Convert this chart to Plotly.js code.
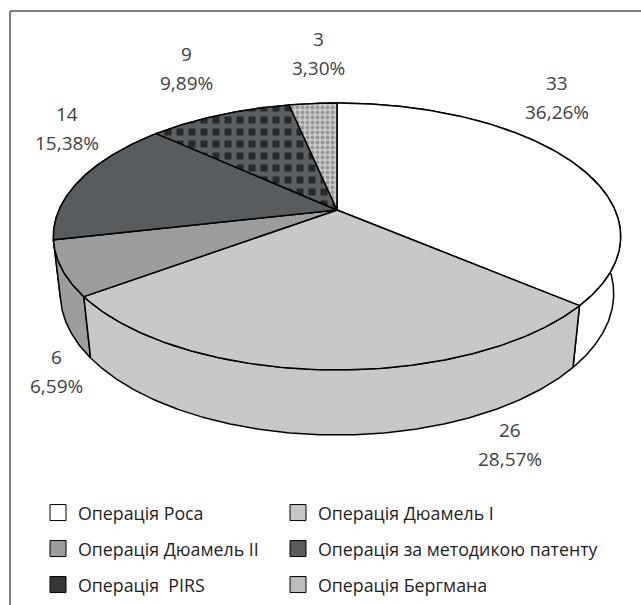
<!DOCTYPE html>
<html><head><meta charset="utf-8">
<script src="https://cdn.plot.ly/plotly-3.0.1.min.js"></script>
<style>html,body{margin:0;padding:0;background:#fff}#chart{width:641px;height:605px}</style>
</head><body><div id="chart"></div>
<script>
// ---- data ----
const categories = ['Операція Роса', 'Операція Дюамель I', 'Операція Дюамель II',
  'Операція за методикою патенту', 'Операція\u00a0 PIRS', 'Операція Бергмана'];
const values = [33, 26, 6, 14, 9, 3];

// ---- styles ----
const fills = ['#ffffff', '#c8c8c8', '#9b9d9f', '#595c5e', '#26292b', '#c9c9c9'];
const legendFills = ['#ffffff', '#c8c8c8', '#9b9d9f', '#595c5e', '#34373a', '#bdbdbd'];
const patterns = [null, null, null, null,
  {shape: '+', fgcolor: '#5c5f61', bgcolor: '#26292b', size: 12, solidity: 0.66},
  {shape: '.', fgcolor: '#979797', bgcolor: '#cbcbcb', size: 5, solidity: 0.45}];
const labelPos = [[557, 97.5], [510, 444.5], [56, 371.5], [67, 128.5], [186, 68.5], [318, 53.5]];
const legendRows = [513, 549, 585];
const legendCols = [38, 278];

// ---- perspective camera for the 3D pie ----
const CX = 337, CY = 210, F = 1242.7, L = 4.47, SA = 0.461, CA = 0.887, H = 0.2336;
function projXY(x, y, z) {
  const d = L - y * CA - z * SA;
  const yc = -y * SA + z * CA;
  return [CX + F * x / d, CY - F * yc / d];
}
function proj(thetaDeg, z) {
  const t = thetaDeg * Math.PI / 180;
  return projXY(Math.sin(t), -Math.cos(t), z);
}
function arc(a1, a2, z) {
  const pts = [];
  const n = Math.max(2, Math.ceil(Math.abs(a2 - a1) / 0.5));
  for (let i = 0; i <= n; i++) pts.push(proj(a1 + (a2 - a1) * i / n, z));
  return pts;
}

const total = values.reduce((a, b) => a + b, 0);
const angles = [];
let acc = 0;
values.forEach(v => { const a1 = acc / total * 360; acc += v; angles.push([a1, acc / total * 360]); });

const traces = [];
// walls, back to front
const order = values.map((v, i) => i).sort((i, j) => {
  const mi = (angles[i][0] + angles[i][1]) / 2, mj = (angles[j][0] + angles[j][1]) / 2;
  return (-Math.cos(mi * Math.PI / 180)) - (-Math.cos(mj * Math.PI / 180));
});
order.forEach(i => {
  const [a1, a2] = angles[i];
  const pts = arc(a1, a2, 0).concat(arc(a2, a1, -H));
  pts.push(pts[0]);
  const tr = {type: 'scatter', mode: 'lines', x: pts.map(p => p[0]), y: pts.map(p => p[1]),
    fill: 'toself', fillcolor: fills[i], line: {color: '#000', width: 1.5},
    hoverinfo: 'skip', showlegend: false};
  if (patterns[i]) tr.fillpattern = patterns[i];
  traces.push(tr);
});
// top faces
const center = projXY(0, 0, 0);
values.forEach((v, i) => {
  const [a1, a2] = angles[i];
  const pts = [center].concat(arc(a1, a2, 0)); pts.push(center);
  const tr = {type: 'scatter', mode: 'lines', x: pts.map(p => p[0]), y: pts.map(p => p[1]),
    fill: 'toself', fillcolor: fills[i], line: {color: '#000', width: 1.5},
    hoverinfo: 'skip', showlegend: false};
  if (patterns[i]) tr.fillpattern = patterns[i];
  traces.push(tr);
});
// legend entries (one legend per entry, laid out 2 x 3)
categories.forEach((name, i) => {
  traces.push({type: 'scatter', mode: 'markers', x: [null], y: [null], name: name,
    marker: {symbol: 'square', size: 16, color: legendFills[i], line: {color: '#000', width: 1}},
    legend: i === 0 ? 'legend' : 'legend' + (i + 1), showlegend: true, hoverinfo: 'skip'});
});

const annotations = [];
values.forEach((v, i) => {
  const pct = (v / total * 100).toFixed(2).replace('.', ',') + '%';
  const [lx, ly] = labelPos[i];
  annotations.push({x: lx, y: ly - 14.5, xref: 'x', yref: 'y', text: String(v), showarrow: false,
    font: {family: 'Open Sans', size: 19, color: '#404040'}, xanchor: 'center', yanchor: 'middle'});
  annotations.push({x: lx, y: ly + 14.5, xref: 'x', yref: 'y', text: pct, showarrow: false,
    font: {family: 'Open Sans', size: 19, color: '#404040'}, xanchor: 'center', yanchor: 'middle'});
});

function leg(i) {
  const row = Math.floor(i / 2), col = i % 2;
  return {orientation: 'v', x: legendCols[col] / 641, xanchor: 'left', y: 1 - legendRows[row] / 605, yanchor: 'middle',
    font: {family: 'Open Sans', size: 17.8, color: '#1e1e1e'}, itemsizing: 'trace',
    bgcolor: 'rgba(0,0,0,0)', itemclick: false, itemdoubleclick: false};
}

const layout = {
  width: 641, height: 605, margin: {l: 0, r: 0, t: 0, b: 0},
  paper_bgcolor: '#fff', plot_bgcolor: '#fff',
  xaxis: {range: [0, 641], visible: false, fixedrange: true},
  yaxis: {range: [605, 0], visible: false, fixedrange: true},
  showlegend: true,
  annotations: annotations,
  shapes: [
    {type: 'line', xref: 'x', yref: 'y', x0: 10, x1: 641, y0: 11, y1: 11, line: {color: '#555', width: 1.5}},
    {type: 'line', xref: 'x', yref: 'y', x0: 10, x1: 10, y0: 11, y1: 605, line: {color: '#555', width: 1.5}}
  ],
  hovermode: false
};
categories.forEach((n, i) => { layout[i === 0 ? 'legend' : 'legend' + (i + 1)] = leg(i); });
Plotly.newPlot('chart', traces, layout, {displayModeBar: false, staticPlot: true});
</script></body></html>
